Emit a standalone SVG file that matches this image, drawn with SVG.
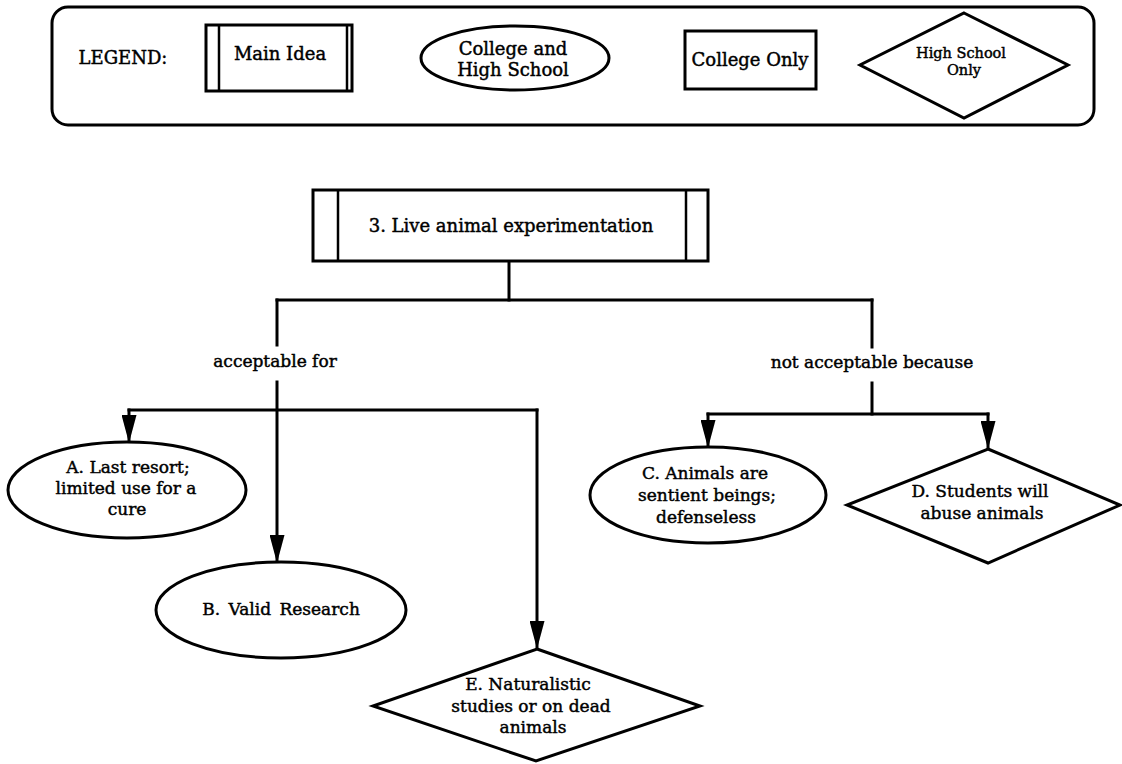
<svg xmlns="http://www.w3.org/2000/svg" width="1122" height="764" viewBox="0 0 1122 764">
<style>
  .shape { fill: #fff; stroke: #000; stroke-width: 3; }
  .thin { fill: none; stroke: #000; stroke-width: 2.5; }
  .conn { fill: none; stroke: #000; stroke-width: 3; stroke-linecap: square; }
  text { font-family: "DejaVu Serif", "Liberation Serif", serif; fill: #000; stroke: #000; stroke-width: 0.45; text-anchor: middle; }
  .t18 { font-size: 18px; }
  .t17 { font-size: 17px; }
  .t15 { font-size: 14.5px; }
</style>
<defs>
  <marker id="arrow" viewBox="0 0 28 15" markerWidth="28" markerHeight="15" refX="27" refY="7.5" orient="auto" markerUnits="userSpaceOnUse">
    <path d="M0,0 L28,7.5 L0,15 z" fill="#000"/>
  </marker>
</defs>
<rect width="1122" height="764" fill="#fff"/>

<g id="legend">
  <rect class="shape" x="52" y="7" width="1042" height="118" rx="16"/>
  <text class="t18" x="123" y="64">LEGEND:</text>
  <g id="legend-main-idea">
    <rect class="shape" x="206" y="25" width="146" height="66"/>
    <line class="thin" x1="219" y1="25" x2="219" y2="91"/>
    <line class="thin" x1="347" y1="25" x2="347" y2="91"/>
    <text class="t18" x="280" y="60">Main Idea</text>
  </g>
  <g id="legend-college-hs">
    <ellipse class="shape" cx="515" cy="58" rx="94" ry="32"/>
    <text class="t18" x="513" y="55">College and</text>
    <text class="t18" x="513" y="76">High School</text>
  </g>
  <g id="legend-college-only">
    <rect class="shape" x="685" y="31" width="131" height="58"/>
    <text class="t18" x="750" y="66">College Only</text>
  </g>
  <g id="legend-hs-only">
    <polygon class="shape" points="964,13 1068,65 964,118 860,65"/>
    <text class="t15" x="961" y="58">High School</text>
    <text class="t15" x="964" y="75">Only</text>
  </g>
</g>

<g id="connectors">
  <path class="conn" d="M509,261 V300"/>
  <path class="conn" d="M277,300 H872"/>
  <path class="conn" d="M277,300 V345"/>
  <path class="conn" d="M872,300 V347"/>
  <path class="conn" d="M129,410 H537"/>
  <path class="conn" d="M277,382 V562" marker-end="url(#arrow)"/>
  <path class="conn" d="M129,410 V442" marker-end="url(#arrow)"/>
  <path class="conn" d="M537,410 V648" marker-end="url(#arrow)"/>
  <path class="conn" d="M872,383 V414"/>
  <path class="conn" d="M708,414 H988"/>
  <path class="conn" d="M708,414 V447" marker-end="url(#arrow)"/>
  <path class="conn" d="M988,414 V448" marker-end="url(#arrow)"/>
  <text class="t17" x="275" y="367">acceptable for</text>
  <text class="t17" x="872" y="368">not acceptable because</text>
</g>

<g id="main">
  <rect class="shape" x="313" y="190" width="395" height="71"/>
  <line class="thin" x1="338" y1="190" x2="338" y2="261"/>
  <line class="thin" x1="686" y1="190" x2="686" y2="261"/>
  <text class="t18" x="511" y="232">3. Live animal experimentation</text>
</g>

<g id="nodeA">
  <ellipse class="shape" cx="127" cy="490" rx="119" ry="48"/>
  <text class="t17" x="128" y="473">A. Last resort;</text>
  <text class="t17" x="126" y="494">limited use for a</text>
  <text class="t17" x="127" y="515">cure</text>
</g>

<g id="nodeB">
  <ellipse class="shape" cx="281" cy="610" rx="125" ry="48"/>
  <text class="t17" x="281" y="615" word-spacing="3">B. Valid Research</text>
</g>

<g id="nodeC">
  <ellipse class="shape" cx="708" cy="495" rx="118" ry="48"/>
  <text class="t17" x="705" y="479">C. Animals are</text>
  <text class="t17" x="707" y="501">sentient beings;</text>
  <text class="t17" x="706" y="523">defenseless</text>
</g>

<g id="nodeD">
  <polygon class="shape" points="988,449 1120,505 988,563 847,505"/>
  <text class="t17" x="980" y="497">D. Students will</text>
  <text class="t17" x="982" y="519">abuse animals</text>
</g>

<g id="nodeE">
  <polygon class="shape" points="537,649 700,706 536,761 373,706"/>
  <text class="t17" x="528" y="690">E. Naturalistic</text>
  <text class="t17" x="531" y="712">studies or on dead</text>
  <text class="t17" x="533" y="733">animals</text>
</g>
</svg>
